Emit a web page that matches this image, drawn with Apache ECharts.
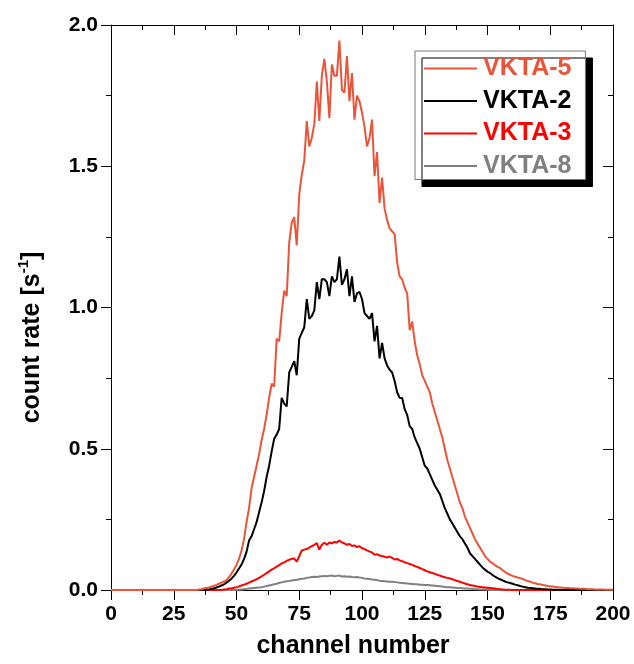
<!DOCTYPE html>
<html>
<head>
<meta charset="utf-8">
<script src="https://cdn.jsdelivr.net/npm/echarts@6/dist/echarts.min.js"></script>
<style>html,body{margin:0;padding:0;background:#fff}#c{width:634px;height:664px}</style>
</head>
<body>
<div id="c"></div>
<script>
// channel numbers 0..200, one value per channel (count rate, s^-1)
const xTicks = [0, 25, 50, 75, 100, 125, 150, 175, 200];
const yTicks = [0.0, 0.5, 1.0, 1.5, 2.0];
const seriesNames = ['VKTA-5', 'VKTA-2', 'VKTA-3', 'VKTA-8'];

const vkta5 = [
  0,0,0,0,0,0,0,0,0,0,
  0,0,0,0,0,0,0,0,0,0,
  0,0,0,0,0,0,0,0,0,0,
  0,0,0,0,0,0.002,0.003,0.005,0.007,0.009,
  0.012,0.015,0.018,0.022,0.026,0.030,0.035,0.045,0.058,0.072,
  0.089,0.110,0.140,0.180,0.240,0.290,0.360,0.400,0.440,0.480,
  0.530,0.570,0.620,0.680,0.730,0.720,0.890,0.880,0.980,1.060,
  1.040,1.230,1.300,1.320,1.220,1.400,1.470,1.520,1.660,1.570,
  1.600,1.650,1.800,1.660,1.820,1.880,1.800,1.670,1.860,1.820,
  1.820,1.945,1.770,1.760,1.890,1.730,1.830,1.665,1.750,1.730,
  1.690,1.640,1.570,1.600,1.665,1.465,1.550,1.370,1.460,1.350,
  1.310,1.280,1.270,1.260,1.160,1.110,1.100,1.070,1.050,0.920,
  0.950,0.880,0.830,0.800,0.760,0.740,0.720,0.700,0.660,0.630,
  0.600,0.570,0.540,0.500,0.460,0.430,0.400,0.370,0.340,0.310,
  0.290,0.260,0.240,0.220,0.200,0.180,0.165,0.150,0.135,0.120,
  0.110,0.100,0.095,0.088,0.082,0.078,0.070,0.064,0.058,0.054,
  0.050,0.047,0.044,0.042,0.039,0.035,0.032,0.029,0.026,0.024,
  0.021,0.020,0.018,0.016,0.014,0.013,0.012,0.011,0.010,0.009,
  0.008,0.007,0.007,0.006,0.006,0.005,0.005,0.004,0.004,0.004,
  0.003,0.003,0.003,0.002,0.002,0.002,0.002,0.001,0.001,0.001,
  0.001
];

const vkta2 = [
  0,0,0,0,0,0,0,0,0,0,
  0,0,0,0,0,0,0,0,0,0,
  0,0,0,0,0,0,0,0,0,0,
  0,0,0,0,0,0,0,0,0,0.002,
  0.004,0.006,0.009,0.012,0.016,0.020,0.026,0.033,0.040,0.050,
  0.062,0.076,0.090,0.110,0.135,0.175,0.190,0.215,0.240,0.275,
  0.310,0.350,0.400,0.440,0.490,0.535,0.550,0.570,0.680,0.660,
  0.650,0.770,0.790,0.810,0.760,0.890,0.910,0.930,1.030,0.960,
  0.970,0.990,1.090,1.030,1.100,1.100,1.090,1.040,1.110,1.090,
  1.100,1.180,1.080,1.100,1.135,1.040,1.110,1.020,1.050,1.055,
  1.030,0.980,0.970,0.960,0.980,0.880,0.935,0.820,0.875,0.820,
  0.795,0.780,0.770,0.740,0.700,0.680,0.680,0.640,0.620,0.580,
  0.570,0.540,0.520,0.500,0.470,0.440,0.430,0.410,0.390,0.370,
  0.355,0.340,0.315,0.290,0.270,0.250,0.235,0.220,0.205,0.190,
  0.180,0.165,0.150,0.130,0.120,0.110,0.100,0.090,0.080,0.072,
  0.065,0.060,0.053,0.047,0.042,0.038,0.034,0.030,0.027,0.025,
  0.022,0.019,0.017,0.014,0.012,0.010,0.008,0.007,0.006,0.005,
  0.004,0.004,0.003,0.003,0.002,0.002,0.001,0.001,0.001,0,
  0,0,0,0,0,0,0,0,0,0,
  0,0,0,0,0,0,0,0,0,0,
  0
];

const vkta3 = [
  0,0,0,0,0,0,0,0,0,0,
  0,0,0,0,0,0,0,0,0,0,
  0,0,0,0,0,0,0,0,0,0,
  0,0,0,0,0,0,0,0,0,0,
  0,0,0,0,0,0.002,0.003,0.005,0.006,0.008,
  0.010,0.013,0.016,0.019,0.022,0.026,0.030,0.034,0.038,0.043,
  0.048,0.054,0.060,0.066,0.072,0.077,0.083,0.088,0.094,0.098,
  0.103,0.107,0.110,0.112,0.100,0.120,0.140,0.143,0.145,0.150,
  0.155,0.160,0.166,0.143,0.160,0.167,0.160,0.168,0.165,0.170,
  0.168,0.175,0.168,0.165,0.160,0.163,0.156,0.158,0.152,0.155,
  0.148,0.145,0.140,0.136,0.133,0.125,0.127,0.122,0.120,0.118,
  0.115,0.118,0.114,0.108,0.110,0.105,0.102,0.098,0.095,0.092,
  0.089,0.085,0.082,0.078,0.074,0.070,0.066,0.063,0.060,0.057,
  0.054,0.051,0.048,0.045,0.043,0.041,0.038,0.035,0.032,0.029,
  0.026,0.023,0.020,0.018,0.016,0.014,0.012,0.011,0.010,0.009,
  0.008,0.007,0.006,0.005,0.004,0.003,0.002,0.001,0.001,0.001,
  0,0,0,0,0,0,0,0,0,0,
  0,0,0,0,0,0,0,0,0,0,
  0,0,0,0,0,0,0,0,0,0,
  0,0,0,0,0,0,0,0,0,0,
  0
];

const vkta8 = [
  0,0,0,0,0,0,0,0,0,0,
  0,0,0,0,0,0,0,0,0,0,
  0,0,0,0,0,0,0,0,0,0,
  0,0,0,0,0,0,0,0,0,0,
  0,0,0,0,0,0,0,0,0,0,
  0,0.001,0.002,0.003,0.004,0.005,0.006,0.007,0.008,0.009,
  0.010,0.012,0.014,0.016,0.018,0.020,0.022,0.025,0.027,0.029,
  0.031,0.032,0.034,0.035,0.036,0.038,0.040,0.041,0.043,0.044,
  0.046,0.047,0.046,0.048,0.049,0.050,0.049,0.050,0.051,0.049,
  0.050,0.051,0.048,0.049,0.047,0.048,0.046,0.045,0.046,0.044,
  0.043,0.041,0.040,0.039,0.037,0.036,0.035,0.033,0.032,0.031,
  0.030,0.029,0.029,0.028,0.027,0.026,0.025,0.024,0.023,0.022,
  0.021,0.020,0.020,0.019,0.019,0.018,0.018,0.017,0.016,0.015,
  0.014,0.013,0.012,0.011,0.010,0.010,0.009,0.008,0.007,0.007,
  0.006,0.005,0.005,0.004,0.004,0.003,0.003,0.002,0.002,0.002,
  0.001,0,0,0,0,0,0,0,0,0,
  0,0,0,0,0,0,0,0,0,0,
  0,0,0,0,0,0,0,0,0,0,
  0,0,0,0,0,0,0,0,0,0,
  0,0,0,0,0,0,0,0,0,0,
  0
];

const colors = { 'VKTA-5': '#E9553B', 'VKTA-2': '#000000', 'VKTA-3': '#FF0000', 'VKTA-8': '#808080' };
const values = { 'VKTA-5': vkta5, 'VKTA-2': vkta2, 'VKTA-3': vkta3, 'VKTA-8': vkta8 };

const FONT = 'Liberation Sans, Arial, sans-serif';
const toPairs = arr => arr.map((v, i) => [i, v]);

const chart = echarts.init(document.getElementById('c'), null, { renderer: 'canvas' });

const drawOrder = ['VKTA-8', 'VKTA-3', 'VKTA-2', 'VKTA-5'];

const tickLabelStyle = { color: '#000', fontFamily: FONT, fontWeight: 'bold', fontSize: 21 };

chart.setOption({
  animation: false,
  backgroundColor: '#fff',
  grid: { left: 111, right: 21, top: 25, bottom: 72, containLabel: false },
  legend: {
    orient: 'vertical',
    left: 415,
    top: 51,
    padding: [5, 14, 1, 9],
    itemGap: 7.5,
    itemWidth: 53,
    itemHeight: 2,
    icon: 'rect',
    backgroundColor: '#fff',
    borderColor: '#777',
    borderWidth: 1,
    shadowColor: '#000',
    shadowBlur: 0,
    shadowOffsetX: 7,
    shadowOffsetY: 7,
    textStyle: { fontFamily: FONT, fontWeight: 'bold', fontSize: 25, lineHeight: 25, padding: [0, 0, 0, 1] },
    data: seriesNames.map(n => ({ name: n, textStyle: { color: colors[n] } }))
  },
  xAxis: [
    {
      type: 'value', min: 0, max: 200, interval: 25, position: 'bottom',
      name: 'channel number', nameLocation: 'middle', nameGap: 44,
      nameTextStyle: { color: '#000', fontFamily: FONT, fontWeight: 'bold', fontSize: 25, padding: [0, 18, 0, 0] },
      axisLine: { show: true, onZero: false, lineStyle: { color: '#000', width: 1 } },
      axisTick: { show: true, inside: false, length: 10, lineStyle: { color: '#000', width: 1 } },
      minorTick: { show: true, splitNumber: 2, length: 5, lineStyle: { color: '#000', width: 1 } },
      axisLabel: Object.assign({ margin: 14 }, tickLabelStyle),
      splitLine: { show: false }
    },
    {
      type: 'value', min: 0, max: 200, interval: 25, position: 'top',
      axisLine: { show: true, onZero: false, lineStyle: { color: '#000', width: 1 } },
      axisTick: { show: true, inside: true, length: 10, lineStyle: { color: '#000', width: 1 } },
      minorTick: { show: true, splitNumber: 2, length: 5, lineStyle: { color: '#000', width: 1 } },
      axisLabel: { show: false },
      splitLine: { show: false }
    }
  ],
  yAxis: [
    {
      type: 'value', min: 0, max: 2, interval: 0.5, position: 'left',
      name: '{a|count rate [s}{s|-1}{a|]}', nameLocation: 'middle', nameGap: 66, nameRotate: 90,
      nameTextStyle: {
        padding: [0, 60, 0, 0],
        rich: {
          a: { color: '#000', fontFamily: FONT, fontWeight: 'bold', fontSize: 25, lineHeight: 29, verticalAlign: 'bottom' },
          s: { color: '#000', fontFamily: FONT, fontWeight: 'bold', fontSize: 15, lineHeight: 29, verticalAlign: 'top' }
        }
      },
      axisLine: { show: true, onZero: false, lineStyle: { color: '#000', width: 1 } },
      axisTick: { show: true, inside: false, length: 10, lineStyle: { color: '#000', width: 1 } },
      minorTick: { show: true, splitNumber: 2, length: 5, lineStyle: { color: '#000', width: 1 } },
      axisLabel: Object.assign({ margin: 13, formatter: v => v.toFixed(1) }, tickLabelStyle),
      splitLine: { show: false }
    },
    {
      type: 'value', min: 0, max: 2, interval: 0.5, position: 'right',
      axisLine: { show: true, onZero: false, lineStyle: { color: '#000', width: 1 } },
      axisTick: { show: true, inside: true, length: 10, lineStyle: { color: '#000', width: 1 } },
      minorTick: { show: true, splitNumber: 2, length: 5, lineStyle: { color: '#000', width: 1 } },
      axisLabel: { show: false },
      splitLine: { show: false }
    }
  ],
  series: drawOrder.map(n => ({
    name: n,
    type: 'line',
    xAxisIndex: 0,
    yAxisIndex: 0,
    data: toPairs(values[n]),
    showSymbol: false,
    symbol: 'none',
    smooth: false,
    color: colors[n],
    lineStyle: { color: colors[n], width: 2 },
    emphasis: { disabled: true }
  }))
});
</script>
</body>
</html>
